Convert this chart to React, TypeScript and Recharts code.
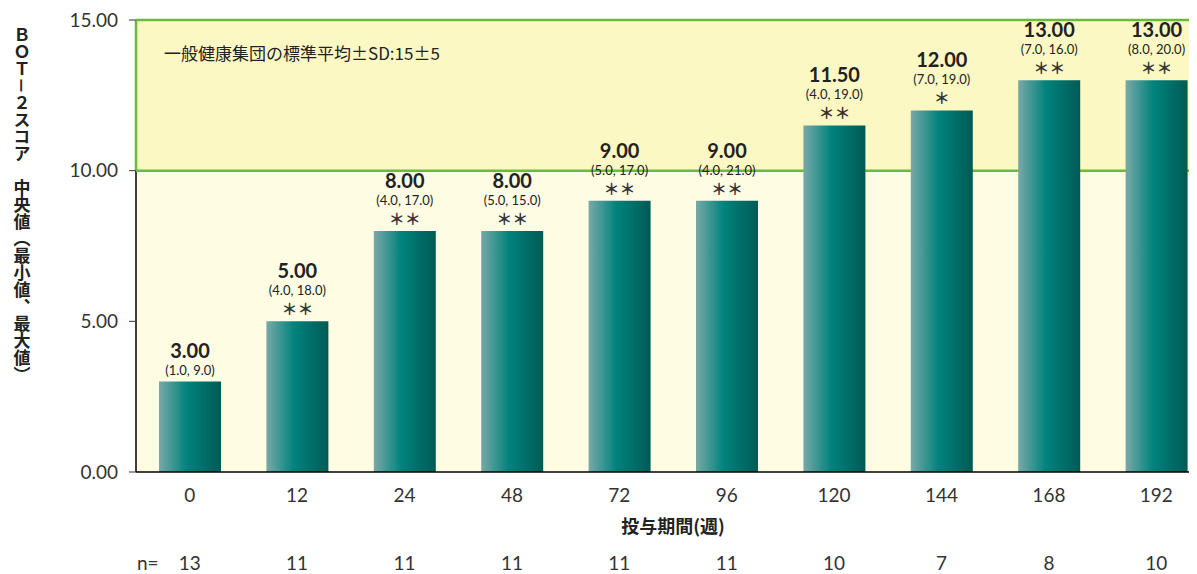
import React from 'react';
import { BarChart, Bar, XAxis, YAxis, ReferenceArea, LabelList } from 'recharts';

const weeks = ['0', '12', '24', '48', '72', '96', '120', '144', '168', '192'];
const medians = [3.0, 5.0, 8.0, 8.0, 9.0, 9.0, 11.5, 12.0, 13.0, 13.0];
const ranges = ['(1.0, 9.0)', '(4.0, 18.0)', '(4.0, 17.0)', '(5.0, 15.0)', '(5.0, 17.0)', '(4.0, 21.0)', '(4.0, 19.0)', '(7.0, 19.0)', '(7.0, 16.0)', '(8.0, 20.0)'];
const marks = ['', '＊＊', '＊＊', '＊＊', '＊＊', '＊＊', '＊＊', '＊', '＊＊', '＊＊'];
const counts = ['13', '11', '11', '11', '11', '11', '10', '7', '8', '10'];
const yTicks = [0, 5, 10, 15];
const bandText = '一般健康集団の標準平均±SD:15±5';
const yTitle = 'ＢＯＴ－２スコア　中央値（最小値、最大値）';
const xTitle = '投与期間(週)';
const nPrefix = 'n=';

const data = weeks.map((w, i) => ({ week: w, median: medians[i] }));

const FONT = '"Noto Sans CJK JP", "Noto Sans", sans-serif';
const NUM = 'Lato, "Noto Sans", sans-serif';
const TXT = '#222';

const XTick = (props: any) => {
  const { x, y, payload, index } = props;
  return (
    <g>
      <text x={x} y={y + 22} textAnchor="middle" dominantBaseline="central" fontSize={19} fill="#333" fontFamily={NUM}>
        {payload.value}
      </text>
      <text x={x} y={y + 90} textAnchor="middle" dominantBaseline="central" fontSize={19} fill="#333" fontFamily={NUM}>
        {counts[index]}
      </text>
      {index === 0 && (
        <text x={x - 42} y={y + 90} textAnchor="middle" dominantBaseline="central" fontSize={19} fill="#333" fontFamily={NUM}>
          {nPrefix}
        </text>
      )}
    </g>
  );
};

const BarLabel = (props: any) => {
  const { x, y, width, index } = props;
  const cx = Number(x) + Number(width) / 2;
  const top = Number(y);
  const hasMark = marks[index] !== '';
  return (
    <g fill={TXT}>
      <text x={cx} y={top - (hasMark ? 51 : 32)} textAnchor="middle" dominantBaseline="central" fontSize={20} fontWeight={700} fill={TXT} fontFamily={NUM}>
        {medians[index].toFixed(2)}
      </text>
      <text x={cx} y={top - (hasMark ? 31 : 12)} textAnchor="middle" dominantBaseline="central" fontSize={13} fill={TXT} fontFamily={NUM}>
        {ranges[index]}
      </text>
      {hasMark && (
        <text x={cx} y={top - 13} textAnchor="middle" dominantBaseline="central" fontSize={16} fontWeight={700} fill="#333" fontFamily={FONT}>
          {marks[index]}
        </text>
      )}
    </g>
  );
};

const UpperBand = (props: any) => {
  const { x, y, width, height } = props;
  return (
    <g>
      <rect x={x} y={y} width={width} height={height} fill="#fcf8c4" />
      <line x1={x} y1={y} x2={x + width} y2={y} stroke="#6cba3a" strokeWidth={2.5} />
      <line x1={x} y1={y + height} x2={x + width} y2={y + height} stroke="#6cba3a" strokeWidth={2.5} />
      <line x1={x} y1={y} x2={x} y2={y + height} stroke="#6cba3a" strokeWidth={2.5} />
      <text x={x + 28} y={y + 32} dominantBaseline="central" fontSize={17} fill={TXT} fontFamily={FONT}>
        {bandText}
      </text>
    </g>
  );
};

const LowerBand = (props: any) => {
  const { x, y, width, height } = props;
  return (
    <g>
      <rect x={x} y={y} width={width} height={height} fill="#fefce3" />
      <line x1={x} y1={y} x2={x} y2={y + height} stroke="#000" strokeWidth={1.5} />
    </g>
  );
};

const YTitle = (props: any) => {
  const vb = props.viewBox || { x: 0, y: 12 };
  return (
    <text
      x={vb.x + 14}
      y={vb.y + 6}
      textAnchor="start"
      fontSize={17}
      fontWeight={700}
      fill={TXT}
      fontFamily={FONT}
      style={{ writingMode: 'vertical-rl', textOrientation: 'mixed' } as any}
    >
      {yTitle}
    </text>
  );
};

const XTitle = (props: any) => {
  const vb = props.viewBox || { x: 0, y: 0, width: 0 };
  return (
    <text x={vb.x + vb.width / 2} y={vb.y + 53} textAnchor="middle" dominantBaseline="central" fontSize={18} fontWeight={700} fill={TXT} fontFamily={FONT}>
      {xTitle}
    </text>
  );
};

export default function App() {
  return (
    <div style={{ width: 1189, height: 566, overflow: 'hidden', background: '#fff' }}>
      <BarChart width={1206} height={566} data={data} margin={{ top: 12, right: 4, bottom: 0, left: 0 }}>
        <defs>
          <linearGradient id="barGrad" x1="0" y1="0" x2="1" y2="0">
            <stop offset="0%" stopColor="#78a9a8" />
            <stop offset="45%" stopColor="#00827c" />
            <stop offset="100%" stopColor="#005a55" />
          </linearGradient>
        </defs>
        <ReferenceArea y1={0} y2={10} shape={<LowerBand />} ifOverflow="extendDomain" />
        <ReferenceArea y1={10} y2={15} shape={<UpperBand />} ifOverflow="extendDomain" />
        <XAxis
          dataKey="week"
          interval={0}
          tickLine={false}
          tickSize={0}
          tickMargin={0}
          axisLine={{ stroke: '#000', strokeWidth: 1.5 }}
          height={102}
          tick={<XTick />}
          label={{ content: <XTitle /> } as any}
        />
        <YAxis
          domain={[0, 15]}
          ticks={yTicks}
          width={128}
          axisLine={false}
          tickLine={{ stroke: '#333' }}
          tickSize={7}
          tickMargin={11}
          tickFormatter={(v: number) => v.toFixed(2)}
          tick={{ fontSize: 19, fill: '#333', fontFamily: NUM }}
          label={{ content: <YTitle /> } as any}
        />
        <Bar dataKey="median" fill="url(#barGrad)" barSize={62} isAnimationActive={false}>
          <LabelList dataKey="median" content={<BarLabel />} />
        </Bar>
      </BarChart>
    </div>
  );
}
